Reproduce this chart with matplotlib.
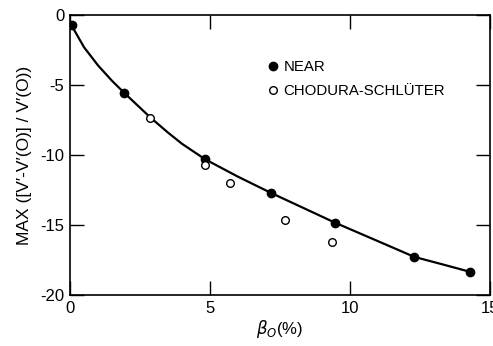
import matplotlib
matplotlib.use("Agg")
import matplotlib.pyplot as plt

# NEAR results (filled dots)
near_beta = [0.08, 1.93, 4.82, 7.17, 9.46, 12.3, 14.27]
near_val = [-0.68, -5.55, -10.3, -12.7, -14.83, -17.28, -18.33]

# Chodura-Schlüter results (open dots)
cs_beta = [2.86, 4.83, 5.7, 7.68, 9.36]
cs_val = [-7.38, -10.68, -11.97, -14.64, -16.24]

# hand-drawn curve
curve_beta = [0.1, 0.5, 1.0, 1.5, 1.93, 2.86, 3.5, 4.0, 4.82, 6.0, 7.17, 8.3, 9.46, 10.9, 12.3, 13.3, 14.26]
curve_val = [-0.9, -2.3, -3.6, -4.7, -5.55, -7.3, -8.4, -9.2, -10.3, -11.55, -12.7, -13.75, -14.83, -16.07, -17.28, -17.81, -18.33]

plt.rcParams['font.family'] = ['Liberation Sans', 'DejaVu Sans']
plt.rcParams['axes.unicode_minus'] = False

fig = plt.figure(figsize=(4.93, 3.46), dpi=100)
ax = fig.add_axes([70 / 493, 1 - 295 / 346, 420 / 493, 280 / 346])

ax.plot(curve_beta, curve_val, color='black', lw=1.6, zorder=2)
ax.plot(near_beta, near_val, 'o', color='black', ms=6, zorder=3, label='NEAR')
ax.plot(cs_beta, cs_val, 'o', mfc='white', mec='black', mew=1.0, ms=5.5, zorder=3,
        label='CHODURA-SCHLÜTER')

ax.set_xlim(0, 15)
ax.set_ylim(-20, 0)
ax.set_xticks([0, 5, 10, 15])
ax.set_yticks([0, -5, -10, -15, -20])
ax.tick_params(direction='in', length=10, width=1.0, top=True, right=True,
               labelsize=12, pad=4)
for s in ax.spines.values():
    s.set_linewidth(1.2)

ax.set_xlabel(r'$\beta_O$' + '(%)', fontsize=12, labelpad=2)
ax.set_ylabel("MAX ([V′-V′(O)] / V′(O))", fontsize=12.5, labelpad=6)

ax.legend(loc='upper left', bbox_to_anchor=(0.455, 0.86), frameon=False,
          fontsize=10.8, handletextpad=0.3, labelspacing=0.65, handlelength=0.8,
          borderaxespad=0)

fig.savefig('out.png', dpi=100)
